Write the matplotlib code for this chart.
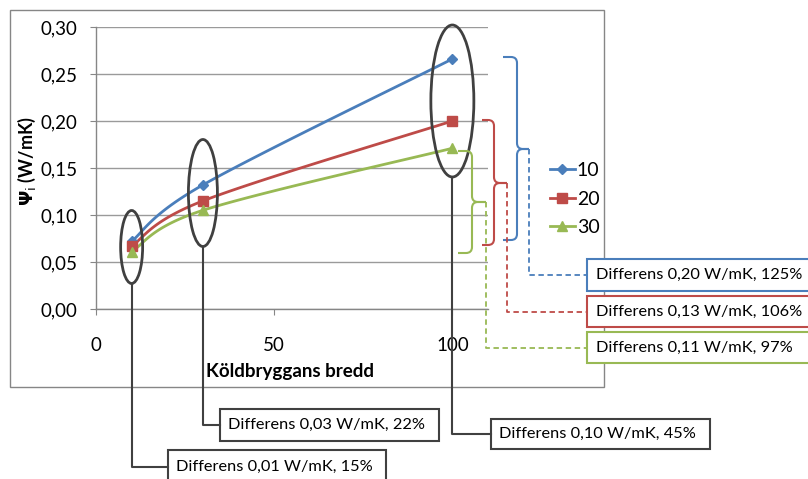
import numpy as np
import matplotlib
matplotlib.use("Agg")
import matplotlib.pyplot as plt
from matplotlib.patches import Ellipse, Rectangle, PathPatch
from matplotlib.path import Path
from matplotlib.lines import Line2D

# ---------------- data ----------------
widths = [10, 30, 100]
series_names = ["10", "20", "30"]
psi_10 = [0.072, 0.132, 0.266]
psi_20 = [0.067, 0.115, 0.200]
psi_30 = [0.061, 0.105, 0.171]
y_ticks = [0.00, 0.05, 0.10, 0.15, 0.20, 0.25, 0.30]
x_ticks = [0, 50, 100]
x_label = "Köldbryggans bredd"
bottom_callouts = ["Differens 0,01 W/mK, 15%",
                   "Differens 0,03 W/mK, 22%",
                   "Differens 0,10 W/mK, 45%"]
right_callouts = ["Differens 0,20 W/mK, 125%",
                  "Differens 0,13 W/mK, 106%",
                  "Differens 0,11 W/mK, 97%"]

colors = ["#4A7EBB", "#BE4B48", "#98B954"]
markers = ["D", "s", "^"]
msizes = [5, 7, 7]
GRAY = "#868686"
GRID = "#9A9A9A"
DARK = "#404040"
FONT = ["Lato", "DejaVu Sans"]
plt.rcParams["font.family"] = FONT
plt.rcParams["mathtext.fontset"] = "dejavusans"

W, H = 808, 479
fig = plt.figure(figsize=(W / 100, H / 100), dpi=100)

def fx(px):
    return px / W

def fy(py):
    return 1 - py / H

# main axes
ax = fig.add_axes([fx(96), fy(309), (488 - 96) / W, (309 - 27) / H])
ax.set_xlim(0, 110)
ax.set_ylim(0, 0.30)
ax.set_yticks(y_ticks)
ax.set_yticklabels([f"{v:.2f}".replace(".", ",") for v in y_ticks])
ax.set_xticks(x_ticks)
ax.set_xticklabels([str(v) for v in x_ticks])
ax.grid(axis="y", color=GRID, lw=1)
ax.set_axisbelow(True)
for s in ["top", "right"]:
    ax.spines[s].set_visible(False)
for s in ["left", "bottom"]:
    ax.spines[s].set_color(GRAY)
    ax.spines[s].set_linewidth(1)
ax.tick_params(axis="y", direction="out", length=4.5, color=GRAY, pad=9,
               labelsize=13.5)
ax.tick_params(axis="x", direction="out", length=4.5, color=GRAY, pad=16,
               labelsize=13.5)

# smoothed (Excel-like) curves computed in pixel space
def smooth(xs, ys):
    pts = ax.transData.transform(np.column_stack([xs, ys]))
    n = len(pts)
    out = [pts[0]]
    t = np.linspace(0, 1, 30)[1:]
    for i in range(n - 1):
        p0 = pts[i]
        p3 = pts[i + 1]
        pm = pts[i - 1] if i > 0 else pts[i]
        pp = pts[i + 2] if i + 2 < n else pts[i + 1]
        c1 = p0 + (p3 - pm) / 6
        c2 = p3 - (pp - p0) / 6
        for tt in t:
            b = ((1 - tt) ** 3) * p0 + 3 * ((1 - tt) ** 2) * tt * c1 \
                + 3 * (1 - tt) * tt ** 2 * c2 + tt ** 3 * p3
            out.append(b)
    out = np.array(out)
    return ax.transData.inverted().transform(out).T

handles = []
for name, vals, c, m, ms in zip(series_names, [psi_10, psi_20, psi_30],
                                colors, markers, msizes):
    sx, sy = smooth(widths, vals)
    ax.plot(sx, sy, color=c, lw=2, zorder=3, solid_capstyle="round")
    ax.plot(widths, vals, ls="none", marker=m, ms=ms, color=c, zorder=4)
    handles.append(Line2D([], [], color=c, lw=2, marker=m, ms=ms, label=name))

leg = fig.legend(handles=handles, loc="center left",
                 bbox_to_anchor=(fx(532), fy(199)), frameon=False,
                 fontsize=14, handlelength=1.3, handletextpad=0.1,
                 labelspacing=0.6)

fig.text(fx(290), fy(371), x_label, ha="center", va="center",
         fontsize=13.5, fontweight="bold")
fig.text(fx(27), fy(161), r"$\mathbf{\Psi}_{\mathrm{i}}$ (W/mK)", rotation=90,
         ha="center", va="center", fontsize=13, fontweight="bold")

# overlay in pixel coordinates for annotations
ov = fig.add_axes([0, 0, 1, 1], zorder=5)
ov.set_xlim(0, W)
ov.set_ylim(H, 0)
ov.axis("off")
ov.patch.set_alpha(0)

ov.add_patch(Rectangle((10, 10), 594, 377, fill=False, ec=GRAY, lw=1))

def px_of(xv):
    d = ax.transData.transform((xv, 0))
    return d[0]

# ellipses & bottom callouts
ell_specs = [(247, 22, 73), (193, 29, 107), (101, 43, 152)]
box_specs = [(168, 450, 386, 485, 467), (220, 409, 439, 441, 425),
             (491, 419, 710, 449, 434)]
for xv, (cy, ew, eh), (bx0, by0, bx1, by1, ly), txt in zip(
        widths, ell_specs, box_specs, bottom_callouts):
    cx = px_of(xv)
    ov.add_patch(Ellipse((cx, cy), ew, eh, fill=False, ec=DARK, lw=2))
    ov.plot([cx, cx, bx0], [cy + eh / 2, ly, ly], color=DARK, lw=1.5)
    ov.add_patch(Rectangle((bx0, by0), bx1 - bx0, by1 - by0, fill=True,
                           fc="white", ec=DARK, lw=1.5))
    ov.text(bx0 + 8, (by0 + by1) / 2 if by1 < 480 else by0 + 17,
            txt, ha="left", va="center", fontsize=11.8)

# braces
def brace(tip, spine, midx, top, mid, bot, color):
    r = 6
    verts = [(tip, top), (spine - r, top), (spine, top), (spine, top + r),
             (spine, mid - r), (spine, mid), (spine + r, mid), (midx, mid),
             (spine + r, mid), (spine, mid), (spine, mid + r),
             (spine, bot - r), (spine, bot), (spine - r, bot), (tip, bot)]
    codes = [Path.MOVETO, Path.LINETO, Path.CURVE3, Path.CURVE3,
             Path.LINETO, Path.CURVE3, Path.CURVE3, Path.LINETO,
             Path.LINETO, Path.CURVE3, Path.CURVE3,
             Path.LINETO, Path.CURVE3, Path.CURVE3, Path.LINETO]
    ov.add_patch(PathPatch(Path(verts, codes), fill=False, ec=color, lw=1.5))

brace_specs = [(503, 517, 529, 57, 149, 240),
               (482, 494, 507, 120, 183, 245),
               (458, 472, 486, 151, 202, 253)]
right_boxes = [(259, 291, 275), (296, 327, 312), (332, 363, 348)]
for (tip, sp, mx, top, mid, bot), (by0, by1, ly), c, txt in zip(
        brace_specs, right_boxes, colors, right_callouts):
    brace(tip, sp, mx, top, mid, bot, c)
    ov.plot([mx, mx, 587], [mid, ly, ly], color=c, lw=1.3, ls=(0, (3, 2)))
    ov.add_patch(Rectangle((587, by0), 240, by1 - by0, fill=True, fc="white",
                           ec=c, lw=1.5))
    ov.text(596, (by0 + by1) / 2, txt, ha="left", va="center", fontsize=11.8)

fig.savefig("out.png", dpi=100)
